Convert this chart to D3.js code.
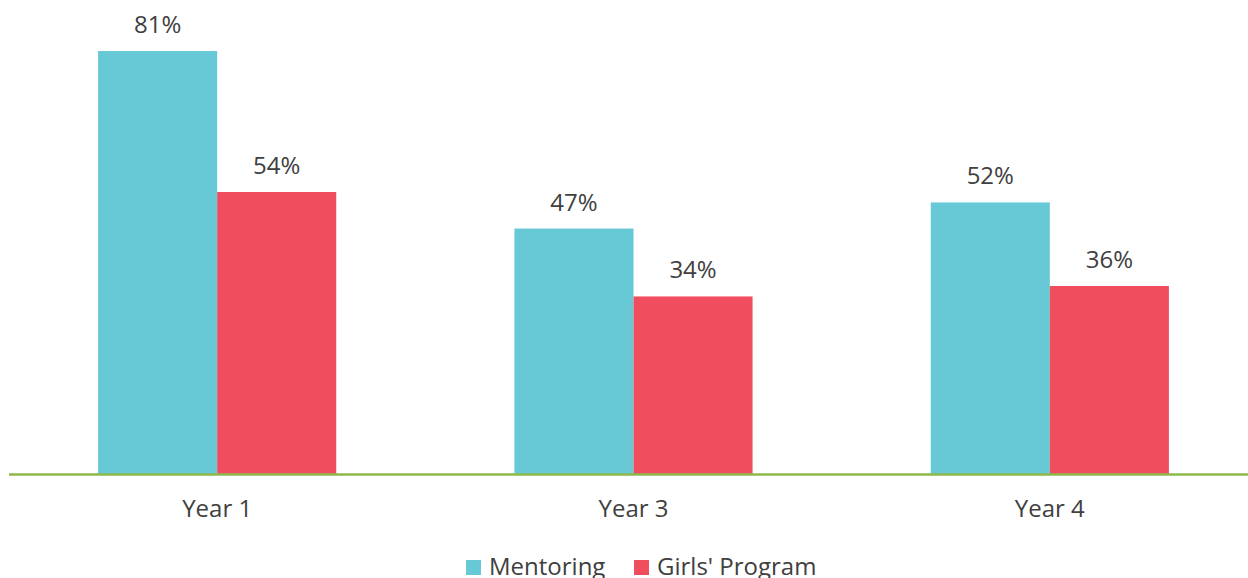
<!DOCTYPE html>
<html>
<head>
<meta charset="utf-8">
<script src="https://cdn.jsdelivr.net/npm/d3@7"></script>
<style>
  html, body { margin: 0; padding: 0; background: #fff; }
  svg { display: block; font-family: "Open Sans", Lato, sans-serif; }
</style>
</head>
<body>
<svg id="chart" width="1248" height="578"></svg>
<script>
// Data
const categories = ['Year 1', 'Year 3', 'Year 4'];
const seriesNames = ['Mentoring', "Girls' Program"];
const mentoring = [0.81, 0.47, 0.52];
const girlsProgram = [0.54, 0.34, 0.36];
const colors = ['#68C9D6', '#F04E5E'];

const svg = d3.select('#chart');
const baseY = 474;
const fontSize = '24px';

const x = d3.scaleBand()
  .domain(categories)
  .range([9, 1258])
  .paddingInner(0.428)
  .paddingOuter(0.214);

const xSub = d3.scaleBand()
  .domain(seriesNames)
  .range([0, x.bandwidth()]);

const y = d3.scaleLinear()
  .domain([0, 0.9])
  .range([baseY, 4]);

const rows = categories.map((c, i) => ({
  cat: c,
  values: [
    { name: seriesNames[0], v: mentoring[i] },
    { name: seriesNames[1], v: girlsProgram[i] },
  ],
}));

const groups = svg.append('g')
  .selectAll('g')
  .data(rows)
  .join('g')
  .attr('transform', (d) => `translate(${x(d.cat)},0)`);

groups.selectAll('rect')
  .data((d) => d.values)
  .join('rect')
  .attr('x', (d) => xSub(d.name))
  .attr('y', (d) => y(d.v))
  .attr('width', xSub.bandwidth())
  .attr('height', (d) => baseY - y(d.v))
  .attr('fill', (d, i) => colors[i]);

// Value labels
groups.selectAll('text')
  .data((d) => d.values)
  .join('text')
  .attr('x', (d) => xSub(d.name) + xSub.bandwidth() / 2)
  .attr('y', (d) => y(d.v) - 18)
  .attr('text-anchor', 'middle')
  .attr('font-size', fontSize)
  .attr('fill', '#404040')
  .text((d) => d3.format('.0%')(d.v));

// X axis
const xAxis = svg.append('g')
  .attr('transform', `translate(0,${baseY})`)
  .call(d3.axisBottom(x).tickSize(0).tickPadding(26));
xAxis.select('.domain')
  .attr('d', `M9,0.5H1248`)
  .attr('stroke', '#8DB94A')
  .attr('stroke-width', 2.5);
xAxis.selectAll('text')
  .attr('font-family', '"Open Sans", Lato, sans-serif')
  .attr('font-size', fontSize)
  .attr('fill', '#404040');

// Legend
const legendX = [466, 634];
const legend = svg.append('g')
  .selectAll('g')
  .data(seriesNames)
  .join('g')
  .attr('transform', (d, i) => `translate(${legendX[i]},560)`);
legend.append('rect')
  .attr('width', 15)
  .attr('height', 15)
  .attr('fill', (d, i) => colors[i]);
legend.append('text')
  .attr('x', 23)
  .attr('y', 15)
  .attr('font-size', fontSize)
  .attr('fill', '#404040')
  .text((d) => d);
</script>
</body>
</html>
